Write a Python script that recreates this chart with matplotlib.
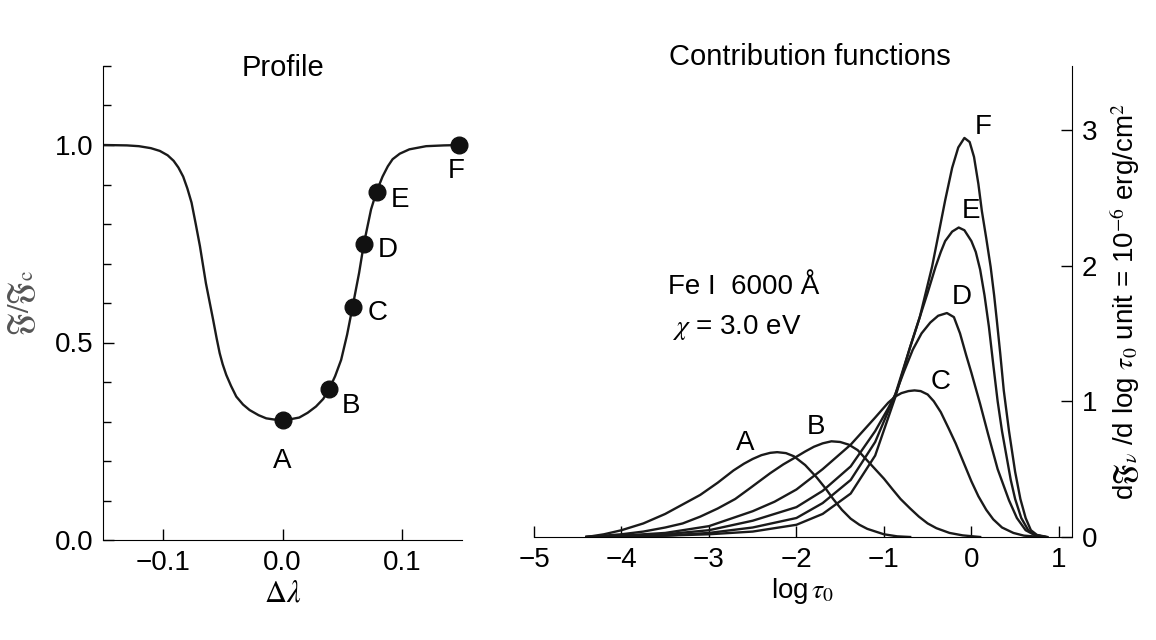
import numpy as np
import matplotlib.pyplot as plt
from matplotlib.ticker import MultipleLocator

plt.rcParams['font.family'] = ['Liberation Sans', 'DejaVu Sans']
plt.rcParams['mathtext.fontset'] = 'stix'

# Profile (left panel)
dl = [-0.15, -0.13, -0.12, -0.11, -0.1025, -0.096, -0.091, -0.087, -0.083, -0.0795,
      -0.076, -0.0725, -0.069, -0.064, -0.058, -0.055, -0.0525, -0.05, -0.047, -0.043,
      -0.0386, -0.033, -0.0275, -0.02, -0.0136, -0.007, 0.0, 0.007, 0.014, 0.021,
      0.028, 0.034, 0.039, 0.044, 0.049, 0.054, 0.0586, 0.064, 0.068, 0.074,
      0.0786, 0.0836, 0.088, 0.092, 0.098, 0.106, 0.12, 0.135, 0.15]
prof = [1.0, 0.999, 0.997, 0.992, 0.985, 0.974, 0.96, 0.943, 0.92, 0.89,
        0.854, 0.80, 0.744, 0.65, 0.558, 0.51, 0.473, 0.445, 0.418, 0.39,
        0.363, 0.343, 0.329, 0.316, 0.308, 0.305, 0.304, 0.306, 0.31, 0.322,
        0.338, 0.357, 0.382, 0.415, 0.456, 0.52, 0.591, 0.676, 0.75, 0.837,
        0.882, 0.92, 0.946, 0.964, 0.978, 0.989, 0.997, 0.999, 1.0]

pt_names = ['A', 'B', 'C', 'D', 'E', 'F']
pt_x = [0.0, 0.039, 0.0586, 0.068, 0.0786, 0.1475]
pt_y = [0.304, 0.382, 0.591, 0.75, 0.882, 1.0]
pt_lab_x = [0.0, 0.057, 0.0794, 0.088, 0.098, 0.145]
pt_lab_y = [0.2, 0.339, 0.574, 0.735, 0.862, 0.934]

# Contribution functions (right panel)
xA = [-4.4, -4.2, -4.0, -3.75, -3.5, -3.3, -3.1, -2.9, -2.72, -2.6, -2.5, -2.4, -2.3, -2.22,
      -2.12, -2.03, -1.9, -1.77, -1.67, -1.58, -1.48, -1.38, -1.28, -1.19, -1.0, -0.85, -0.7]
yA = [0.0, 0.02, 0.05, 0.1, 0.17, 0.24, 0.31, 0.4, 0.49, 0.54, 0.575, 0.603, 0.62, 0.625,
      0.618, 0.595, 0.53, 0.44, 0.36, 0.28, 0.2, 0.135, 0.09, 0.06, 0.02, 0.005, 0.0]

xB = [-4.4, -4.2, -4.0, -3.75, -3.5, -3.3, -3.1, -2.9, -2.7, -2.53, -2.3, -2.15, -2.03, -1.9,
      -1.8, -1.7, -1.6, -1.5, -1.4, -1.3, -1.2, -1.1, -1.0, -0.9, -0.81, -0.7, -0.6, -0.5,
      -0.4, -0.25, -0.1, 0.1]
yB = [0.0, 0.01, 0.02, 0.04, 0.07, 0.1, 0.15, 0.21, 0.28, 0.36, 0.47, 0.535, 0.58, 0.63,
      0.665, 0.69, 0.705, 0.70, 0.68, 0.64, 0.57, 0.5, 0.43, 0.35, 0.28, 0.21, 0.15, 0.1,
      0.065, 0.03, 0.012, 0.0]

xC = [-4.4, -4.0, -3.5, -3.0, -2.5, -2.25, -2.0, -1.7, -1.38, -1.1, -0.95, -0.87, -0.8, -0.72,
      -0.65, -0.58, -0.5, -0.43, -0.35, -0.26, -0.18, -0.09, 0.0, 0.08, 0.17, 0.25, 0.35,
      0.48, 0.6, 0.8]
yC = [0.0, 0.01, 0.03, 0.08, 0.19, 0.26, 0.35, 0.5, 0.68, 0.88, 0.99, 1.035, 1.06, 1.075,
      1.08, 1.075, 1.05, 1.0, 0.92, 0.8, 0.69, 0.55, 0.41, 0.3, 0.2, 0.13, 0.07,
      0.03, 0.01, 0.0]

xD = [-4.4, -3.5, -3.0, -2.5, -2.0, -1.7, -1.38, -1.1, -0.95, -0.87, -0.77, -0.67, -0.57, -0.47,
      -0.38, -0.28, -0.2, -0.13, -0.06, 0.0, 0.1, 0.19, 0.3, 0.43, 0.52, 0.62, 0.72, 0.85]
yD = [0.0, 0.02, 0.05, 0.12, 0.22, 0.34, 0.52, 0.78, 0.95, 1.05, 1.22, 1.38, 1.5, 1.58,
      1.63, 1.65, 1.62, 1.5, 1.34, 1.21, 0.98, 0.76, 0.5, 0.27, 0.14, 0.05, 0.015, 0.0]

xE = [-4.4, -3.5, -3.0, -2.5, -2.0, -1.7, -1.38, -1.1, -0.87, -0.7, -0.6, -0.5, -0.41, -0.35,
      -0.3, -0.22, -0.145, -0.08, 0.0, 0.05, 0.1, 0.15, 0.2, 0.25, 0.3, 0.35, 0.4, 0.45,
      0.5, 0.57, 0.65, 0.73, 0.85]
yE = [0.0, 0.01, 0.03, 0.07, 0.14, 0.25, 0.42, 0.7, 1.05, 1.4, 1.6, 1.8, 1.99, 2.1,
      2.18, 2.25, 2.28, 2.26, 2.18, 2.1, 1.97, 1.78, 1.55, 1.27, 1.0, 0.78, 0.6, 0.42,
      0.28, 0.14, 0.05, 0.015, 0.0]

xF = [-4.4, -3.5, -3.0, -2.5, -2.0, -1.7, -1.38, -1.1, -0.87, -0.7, -0.59, -0.45, -0.37, -0.3,
      -0.22, -0.15, -0.08, -0.02, 0.03, 0.08, 0.12, 0.17, 0.22, 0.26, 0.29, 0.33, 0.37,
      0.43, 0.5, 0.56, 0.62, 0.68, 0.75, 0.87]
yF = [0.0, 0.01, 0.02, 0.04, 0.09, 0.17, 0.32, 0.6, 1.03, 1.4, 1.62, 1.99, 2.25, 2.48,
      2.72, 2.87, 2.94, 2.91, 2.8, 2.6, 2.4, 2.2, 1.99, 1.78, 1.6, 1.35, 1.08,
      0.78, 0.48, 0.28, 0.14, 0.05, 0.015, 0.0]

curves = [(xA, yA), (xB, yB), (xC, yC), (xD, yD), (xE, yE), (xF, yF)]
cf_lab_x = [-2.59, -1.78, -0.35, -0.11, 0.0, 0.14]
cf_lab_y = [0.69, 0.81, 1.14, 1.77, 2.40, 3.02]

fs = 20
fig = plt.figure(figsize=(11.56, 6.4), dpi=100)

# left panel
ax1 = fig.add_axes([103/1156, 100/640, 359/1156, 474/640])
ax1.plot(dl, prof, color='#1a1a1a', lw=1.7)
ax1.plot(pt_x, pt_y, 'o', color='#111111', ms=12, clip_on=False)
for n, x, y in zip(pt_names, pt_lab_x, pt_lab_y):
    ax1.text(x, y, n, fontsize=fs, ha='center', va='center')
ax1.set_xlim(-0.15, 0.15)
ax1.set_ylim(0, 1.2)
ax1.set_xticks([-0.1, 0.0, 0.1])
ax1.set_xticklabels(['\u22120.1', '0.0', '0.1'])
ax1.set_yticks([0.0, 0.5, 1.0])
ax1.set_yticklabels(['0.0', '0.5', '1.0'])
ax1.yaxis.set_minor_locator(MultipleLocator(0.1))
ax1.tick_params(direction='in', length=8, width=1, labelsize=fs, pad=7)
ax1.tick_params(which='minor', direction='in', length=6, width=1)
ax1.spines['top'].set_visible(False)
ax1.spines['right'].set_visible(False)
ax1.set_xlabel(r'$\Delta\lambda$', fontsize=fs + 2, labelpad=2)
ax1.set_ylabel(r'$\mathfrak{F}/\mathfrak{F}_{\mathrm{c}}$', fontsize=fs + 2, color='#555555', labelpad=12)
ax1.text(0.5, 0.996, 'Profile', transform=ax1.transAxes, fontsize=fs + 1, ha='center', va='center')

# right panel
ax2 = fig.add_axes([534/1156, 103/640, 538/1156, 471/640])
for x, y in curves:
    ax2.plot(x, y, color='#1a1a1a', lw=1.7)
for n, x, y in zip(pt_names, cf_lab_x, cf_lab_y):
    ax2.text(x, y, n, fontsize=fs, ha='center', va='center')
ax2.text(-3.47, 1.84, 'Fe I  6000 \u00c5', fontsize=fs, va='center')
ax2.text(-3.42, 1.54, r'$\chi$ = 3.0 eV', fontsize=fs, va='center')
ax2.set_xlim(-5, 1.15)
ax2.set_ylim(0, 3.47)
ax2.set_xticks([-5, -4, -3, -2, -1, 0, 1])
ax2.set_xticklabels(['\u22125', '\u22124', '\u22123', '\u22122', '\u22121', '0', '1'])
ax2.set_yticks([0, 1, 2, 3])
ax2.yaxis.tick_right()
ax2.yaxis.set_label_position('right')
ax2.tick_params(direction='in', length=8, width=1, labelsize=fs, pad=7)
ax2.spines['top'].set_visible(False)
ax2.spines['left'].set_visible(False)
ax2.set_xlabel(r'log$\,\tau_0$', fontsize=fs, labelpad=2)
ax2.set_ylabel(r'd$\mathfrak{F}_\nu$ /d log $\tau_0$ unit = 10$^{-6}$ erg/cm$^2$', fontsize=fs, labelpad=8)
ax2.text(0.513, 1.019, 'Contribution functions', transform=ax2.transAxes, fontsize=fs + 1,
         ha='center', va='center')

plt.savefig('out.png', dpi=100)
